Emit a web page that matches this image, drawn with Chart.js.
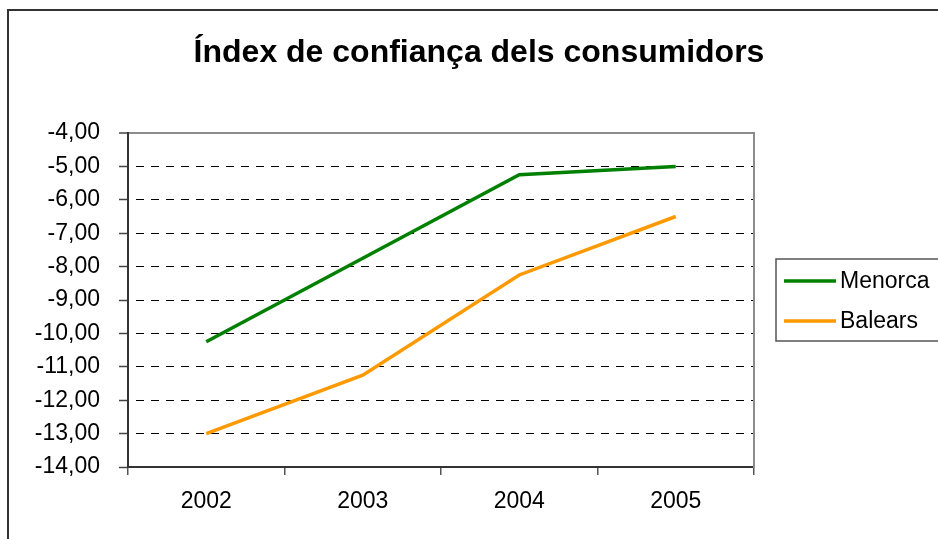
<!DOCTYPE html>
<html>
<head>
<meta charset="utf-8">
<script src="https://cdn.jsdelivr.net/npm/chart.js@4/dist/chart.umd.min.js"></script>
<style>
  html, body { margin: 0; padding: 0; background: #fff; }
  #wrap { width: 938px; height: 539px; position: relative; }
</style>
</head>
<body>
<div id="wrap"><canvas id="c" width="938" height="539"></canvas></div>
<script>
const titleText = 'Índex de confiança dels consumidors';
const categories = ['2002', '2003', '2004', '2005'];
const seriesNames = ['Menorca', 'Balears'];
const menorca = [-10.25, -7.75, -5.25, -5.0];
const balears = [-13.0, -11.25, -8.25, -6.5];
const yMin = -14, yMax = -4, yStep = 1;
const colors = ['#008000', '#ff9900'];

const FONT = '"Liberation Sans", Arial, sans-serif';

const framePlugin = {
  id: 'frame',
  beforeDraw(chart) {
    const ctx = chart.ctx;
    ctx.save();
    ctx.fillStyle = '#fff';
    ctx.fillRect(0, 0, chart.width, chart.height);
    ctx.strokeStyle = '#333';
    ctx.lineWidth = 2;
    ctx.beginPath();
    ctx.moveTo(8, chart.height);
    ctx.lineTo(8, 10);
    ctx.lineTo(chart.width, 10);
    ctx.stroke();
    ctx.restore();
  }
};

const legendPlugin = {
  id: 'boxLegend',
  afterDraw(chart) {
    const ctx = chart.ctx;
    const a = chart.chartArea;
    const left = a.right + 22, top = a.top + 126, bottom = a.top + 208;
    ctx.save();
    ctx.strokeStyle = '#555';
    ctx.lineWidth = 1.5;
    ctx.strokeRect(left, top, chart.width - left + 5, bottom - top);
    ctx.font = '23px ' + FONT;
    ctx.textBaseline = 'middle';
    ctx.fillStyle = '#000';
    chart.data.datasets.forEach((ds, i) => {
      const y = top + 22 + i * 40;
      ctx.strokeStyle = ds.borderColor;
      ctx.lineWidth = 3.5;
      ctx.beginPath();
      ctx.moveTo(left + 8, y);
      ctx.lineTo(left + 60, y);
      ctx.stroke();
      ctx.fillText(ds.label, left + 64, y + 1);
    });
    ctx.restore();
  }
};

new Chart(document.getElementById('c'), {
  type: 'line',
  data: {
    labels: categories,
    datasets: [
      { label: seriesNames[0], data: menorca, borderColor: colors[0], backgroundColor: colors[0],
        borderWidth: 3.5, pointRadius: 0, tension: 0, fill: false },
      { label: seriesNames[1], data: balears, borderColor: colors[1], backgroundColor: colors[1],
        borderWidth: 3.5, pointRadius: 0, tension: 0, fill: false }
    ]
  },
  options: {
    responsive: false,
    animation: false,
    devicePixelRatio: 1,
    layout: { padding: { left: 20, right: 0, top: 0, bottom: 0 } },
    plugins: {
      legend: { display: false },
      tooltip: { enabled: false },
      title: {
        display: true, text: titleText, color: '#000',
        font: { family: FONT, size: 32, weight: 'bold', lineHeight: 1.2 },
        padding: { top: 34, bottom: 60.6 }
      }
    },
    scales: {
      x: {
        type: 'category',
        offset: true,
        grid: { offset: true, drawOnChartArea: false, drawTicks: true, tickLength: 8, tickColor: '#555', lineWidth: 1.5 },
        border: { display: true, color: '#333', width: 2 },
        ticks: { color: '#000', font: { family: FONT, size: 23 }, padding: 13, maxRotation: 0 },
        afterFit(s) { s.height = 72; }
      },
      y: {
        type: 'linear',
        position: 'left',
        min: yMin, max: yMax,
        grid: {
          drawOnChartArea: true, drawTicks: true, tickLength: 9,
          color: (c) => c.tick && c.tick.value === yMax ? '#8c8c8c' : (c.tick && c.tick.value === yMin ? 'rgba(0,0,0,0)' : '#000'),
          lineWidth: (c) => c.tick && c.tick.value === yMax ? 2 : 1,
          tickColor: '#444', tickWidth: 1.5, tickBorderDash: []
        },
        border: {
          display: true, color: '#333', width: 2,
          dash: (c) => c.tick && c.tick.value === yMax ? [] : [8, 7],
          dashOffset: 8
        },
        ticks: {
          stepSize: yStep, color: '#000', font: { family: FONT, size: 23 }, padding: 19,
          callback: (v) => v.toFixed(2).replace('.', ',')
        },
        afterFit(s) { s.width = 108; }
      },
      y2: {
        type: 'linear',
        position: 'right',
        min: yMin, max: yMax,
        grid: { display: false },
        border: { display: true, color: '#8c8c8c', width: 2 },
        ticks: { display: false },
        afterFit(s) { s.width = 184; }
      }
    }
  },
  plugins: [framePlugin, legendPlugin]
});
</script>
</body>
</html>
